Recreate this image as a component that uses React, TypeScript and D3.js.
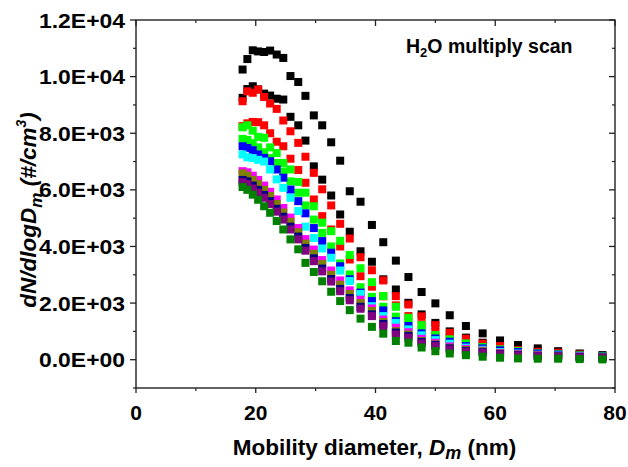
import React from 'react'
import * as d3 from 'd3'

// mobility diameter bins (nm)
const diameters = [17.8, 18.6, 19.5, 20.4, 21.4, 22.4, 23.5, 24.6, 25.8, 27.1, 28.3, 29.7, 31.1, 32.6, 34.1, 35.7,
    37.5, 39.4, 41.3, 43.4, 45.5, 47.7, 50.0, 52.4, 55.1, 57.9, 60.8, 63.8, 67.1, 70.5, 74.1, 77.9]

// dN/dlogDm for each scan (#/cm3)
const scan1 = [10250, 10620, 10930, 10890, 10870, 10920, 10780, 10660, 10020, 9810, 9320, 8630, 8280, 7680, 7030, 5950,
    5580, 4760, 4150, 3500, 2920, 2390, 1990, 1570, 1190, 930, 680, 520, 400, 300, 220, 160]
const scan2 = [9250, 9560, 9660, 9550, 9400, 9330, 9220, 9190, 8580, 8280, 7740, 6830, 6360, 5800, 5130, 4520,
    3830, 3460, 2840, 2480, 2010, 1600, 1300, 1000, 780, 600, 500, 360, 300, 260, 200, 140]
const scan3 = [9130, 9480, 9430, 9540, 9280, 9050, 8860, 8450, 8070, 7660, 7170, 6600, 6020, 5450, 4800, 4280,
    3620, 3160, 2800, 2245, 1950, 1530, 1220, 950, 740, 565, 480, 340, 280, 245, 185, 125]
const scan4 = [8250, 8350, 8400, 8390, 8280, 8000, 7700, 7540, 7100, 6700, 6250, 5660, 5070, 4600, 4000, 3540,
    2950, 2580, 2240, 1920, 1540, 1250, 980, 760, 600, 460, 390, 300, 230, 200, 160, 120]
const scan5 = [8210, 8280, 8090, 7870, 7840, 7500, 7300, 6950, 6720, 6280, 5900, 5420, 4840, 4540, 4200, 3700,
    3230, 2740, 2250, 1870, 1480, 1220, 870, 720, 575, 445, 365, 300, 220, 185, 150, 125]
const scan6 = [7800, 7760, 7650, 7500, 7330, 7120, 6950, 6650, 6300, 5900, 5450, 4950, 4480, 4000, 3400, 3010,
    2560, 2220, 1870, 1520, 1300, 1020, 830, 680, 530, 430, 350, 285, 230, 190, 150, 115]
const scan7 = [7540, 7480, 7400, 7250, 7130, 7010, 6720, 6430, 6010, 5600, 5170, 4650, 4190, 3780, 3300, 2840,
    2370, 2070, 1740, 1360, 1190, 930, 750, 635, 480, 400, 330, 270, 220, 180, 140, 110]
const scan8 = [7250, 7150, 7120, 7060, 7000, 6720, 6370, 6070, 5720, 5250, 4700, 4300, 3930, 3600, 3150, 2780,
    2320, 1890, 1540, 1300, 1070, 860, 690, 565, 425, 350, 270, 215, 175, 145, 115, 95]
const scan9 = [6660, 6620, 6500, 6350, 6150, 5930, 5660, 5360, 5020, 4650, 4260, 3890, 3520, 3150, 2800, 2450,
    2120, 1810, 1420, 1130, 970, 740, 600, 470, 380, 320, 240, 195, 160, 135, 110, 90]
const scan10 = [6580, 6500, 6350, 6200, 6000, 5780, 5500, 5200, 4870, 4500, 4100, 3740, 3380, 3000, 2650, 2320,
    2000, 1720, 1330, 1010, 890, 660, 540, 420, 340, 300, 220, 180, 150, 125, 100, 85]
const scan11 = [6350, 6300, 6150, 6000, 5820, 5600, 5330, 5050, 4700, 4350, 3950, 3580, 3220, 2850, 2500, 2180,
    1870, 1600, 1260, 960, 840, 630, 520, 400, 310, 265, 200, 165, 135, 115, 90, 75]
const scan12 = [6270, 6200, 6050, 5900, 5720, 5500, 5230, 4950, 4600, 4250, 3850, 3480, 3120, 2760, 2420, 2100,
    1800, 1540, 1190, 890, 780, 575, 480, 360, 280, 245, 185, 150, 125, 105, 80, 70]
const scan13 = [6100, 6000, 5830, 5650, 5420, 5190, 4900, 4600, 4250, 3900, 3420, 3100, 2770, 2400, 2070, 1750,
    1450, 1160, 920, 660, 600, 430, 300, 220, 160, 105, 70, 46, 35, 35, 21, 10]

const scans = [scan1, scan2, scan3, scan4, scan5, scan6, scan7, scan8, scan9, scan10, scan11, scan12, scan13]
const colors = ['#000000', '#000000', '#ff0000', '#ff0000', '#00ff00', '#00ff00', '#0000ff', '#00ffff',
    '#ff00ff', '#808000', '#000080', '#800080', '#008000']

const xTicks = [0, 20, 40, 60, 80]
const xMinor = [10, 30, 50, 70]
const yTicks = [0, 2000, 4000, 6000, 8000, 10000, 12000]
const yTickLabels = ['0.0E+00', '2.0E+03', '4.0E+03', '6.0E+03', '8.0E+03', '1.0E+04', '1.2E+04']
const yMinor = [-1000, 1000, 3000, 5000, 7000, 9000, 11000]

const W = 628, H = 467
const left = 136, right = 615, top = 20, bottom = 388
const font = 'Arial, "Liberation Sans", sans-serif'

export default function App() {
    const x = d3.scaleLinear().domain([0, 80]).range([left, right])
    const y = d3.scaleLinear().domain([-1000, 12000]).range([bottom, top])
    const axisColor = '#222'
    const sq = 8

    return (
        <svg width={W} height={H} style={{ position: 'absolute', left: 0, top: 0, background: '#fff' }}
            fontFamily={font}>
            <rect x={0} y={0} width={W} height={H} fill="#fff" />
            {scans.map((s, i) => (
                <g key={i} fill={colors[i]}>
                    {s.map((v, j) => (
                        <rect key={j} x={x(diameters[j]) - sq / 2} y={y(v) - sq / 2} width={sq} height={sq} />
                    ))}
                </g>
            ))}
            <rect x={left} y={top} width={right - left} height={bottom - top} fill="none"
                stroke={axisColor} strokeWidth={1.4} />
            {/* bottom ticks out, top ticks in */}
            {xTicks.map(t => (
                <g key={'x' + t}>
                    <line x1={x(t)} x2={x(t)} y1={bottom} y2={bottom + 5} stroke={axisColor} strokeWidth={1.3} />
                    <line x1={x(t)} x2={x(t)} y1={top} y2={top + 6} stroke={axisColor} strokeWidth={1.3} />
                    <text x={x(t)} y={bottom + 32} textAnchor="middle" fontSize={21} fontWeight="bold">{t}</text>
                </g>
            ))}
            {xMinor.map(t => (
                <g key={'xm' + t}>
                    <line x1={x(t)} x2={x(t)} y1={bottom} y2={bottom + 3} stroke={axisColor} strokeWidth={1.2} />
                    <line x1={x(t)} x2={x(t)} y1={top} y2={top + 3} stroke={axisColor} strokeWidth={1.2} />
                </g>
            ))}
            {yTicks.map((t, i) => (
                <g key={'y' + t}>
                    <line x1={left - 6} x2={left} y1={y(t)} y2={y(t)} stroke={axisColor} strokeWidth={1.3} />
                    <line x1={right - 6} x2={right} y1={y(t)} y2={y(t)} stroke={axisColor} strokeWidth={1.3} />
                    <text x={left - 11} y={y(t)} dy="0.36em" textAnchor="end" fontSize={21} fontWeight="bold"
                        textLength={86} lengthAdjust="spacingAndGlyphs">{yTickLabels[i]}</text>
                </g>
            ))}
            {yMinor.map(t => (
                <g key={'ym' + t}>
                    <line x1={left - 3} x2={left} y1={y(t)} y2={y(t)} stroke={axisColor} strokeWidth={1.2} />
                    <line x1={right - 3} x2={right} y1={y(t)} y2={y(t)} stroke={axisColor} strokeWidth={1.2} />
                </g>
            ))}
            <text x={(left + right) / 2 - 1} y={455} textAnchor="middle" fontSize={22.5} fontWeight="bold">
                Mobility diameter, <tspan fontStyle="italic">D</tspan>
                <tspan fontStyle="italic" fontSize={18} dy={4}>m</tspan>
                <tspan dy={-4}> (nm)</tspan>
            </text>
            <text transform={`translate(36,${(top + bottom) / 2 + 6}) rotate(-90)`} textAnchor="middle"
                fontSize={22.5} fontWeight="bold" fontStyle="italic">
                dN/dlogD<tspan fontSize={17} dy={6}>m</tspan>
                <tspan dy={-6}> (#/cm</tspan><tspan fontSize={14} dy={-10}>3</tspan><tspan dy={10}>)</tspan>
            </text>
            <text x={406} y={53} fontSize={19.5} fontWeight="bold">
                H<tspan fontSize={13} dy={4}>2</tspan><tspan dy={-4}>O multiply scan</tspan>
            </text>
        </svg>
    )
}
